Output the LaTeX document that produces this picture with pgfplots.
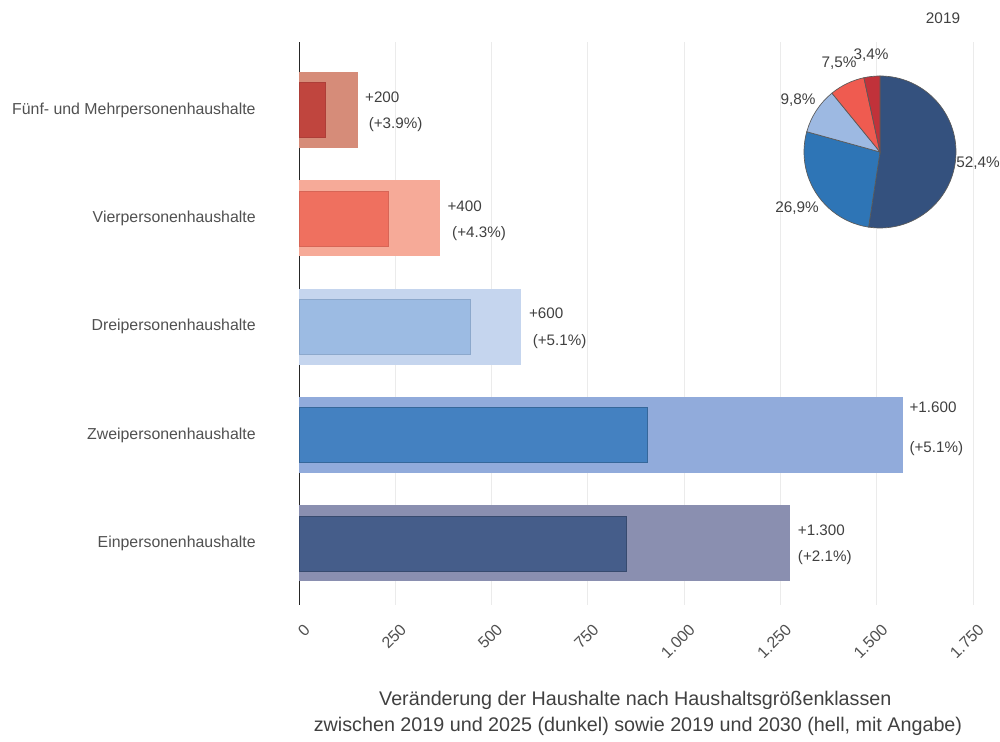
\documentclass[border=0pt]{standalone}
\usepackage{fontspec}
\setmainfont{Liberation Sans}
\usepackage{pgfplots}
\pgfplotsset{compat=1.18}
\definecolor{txt}{HTML}{505050}
\definecolor{txtd}{HTML}{404040}
\definecolor{gridc}{HTML}{EBEBEB}
% bars: light (2030) / dark (2025)
\definecolor{fL}{HTML}{D68C79}\definecolor{fD}{HTML}{C0453E}
\definecolor{vL}{HTML}{F6AA98}\definecolor{vD}{HTML}{EF705F}
\definecolor{dL}{HTML}{C5D5EE}\definecolor{dD}{HTML}{9CBBE3}
\definecolor{zL}{HTML}{91ABDB}\definecolor{zD}{HTML}{4481C1}
\definecolor{eL}{HTML}{8A8FB0}\definecolor{eD}{HTML}{455D8A}
% pie
\definecolor{p1}{HTML}{34517E}
\definecolor{p2}{HTML}{2E75B6}
\definecolor{p3}{HTML}{9DB9E2}
\definecolor{p4}{HTML}{EF5B50}
\definecolor{p5}{HTML}{C1323A}
\newcommand\pieslice[3]{%
  \pgfmathsetmacro\angA{90-3.6*#1}%
  \pgfmathsetmacro\angB{90-3.6*(#1+#2)}%
  \edef\temp{\noexpand\filldraw[fill=#3, draw=black!65, line width=0.5pt] (axis cs:0,0) -- ++(\angA:57pt) arc[start angle=\angA, end angle=\angB, radius=57pt] -- cycle;}%
  \temp}
\begin{document}
\begin{tikzpicture}[x=1pt,y=1pt]
\useasboundingbox (0,0) rectangle (750,556.5);
\begin{axis}[
  at={(224.25pt,102.75pt)}, anchor=south west,
  scale only axis, width=505.5pt, height=422.25pt,
  xmin=0, xmax=1750, ymin=-0.57, ymax=4.63,
  clip=false,
  axis x line=bottom, x axis line style={draw=none},
  axis y line=left, y axis line style={-, draw=black!85, line width=0.6pt},
  xtick={0,250,...,1750}, xmajorgrids, grid style={gridc, line width=0.6pt},
  major tick length=0,
  ytick={0,1,2,3,4},
  yticklabels={Einpersonenhaushalte,Zweipersonenhaushalte,Dreipersonenhaushalte,Vierpersonenhaushalte,Fünf- und Mehrpersonenhaushalte},
  yticklabel style={font=\fontsize{11.9}{14}\selectfont, text=txt, xshift=-29pt},
  xticklabel style={font=\fontsize{12}{13}\selectfont, text=txt, rotate=45, anchor=east, xshift=-4pt, yshift=-16pt},
  /pgf/number format/1000 sep={.},
  /pgf/number format/assume math mode=true,
  xbar, bar shift=0pt,
]
% light bars (2019-2030)
\addplot[fill=eL, draw=none, bar width=57pt] coordinates {(1274,0)};
\addplot[fill=zL, draw=none, bar width=57pt] coordinates {(1569,1)};
\addplot[fill=dL, draw=none, bar width=57pt] coordinates {(576,2)};
\addplot[fill=vL, draw=none, bar width=57pt] coordinates {(367,3)};
\addplot[fill=fL, draw=none, bar width=57pt] coordinates {(152,4)};
% dark bars (2019-2025)
\addplot[fill=eD, draw=eD!80!black, line width=0.4pt, bar width=41.25pt] coordinates {(849,0)};
\addplot[fill=zD, draw=zD!80!black, line width=0.4pt, bar width=41.25pt] coordinates {(905,1)};
\addplot[fill=dD, draw=dD!90!black, line width=0.4pt, bar width=41.25pt] coordinates {(444,2)};
\addplot[fill=vD, draw=vD!90!black, line width=0.4pt, bar width=41.25pt] coordinates {(232,3)};
\addplot[fill=fD, draw=fD!90!black, line width=0.4pt, bar width=41.25pt] coordinates {(69,4)};
% value labels
\tikzset{vl/.style={anchor=west, inner sep=0pt, text=txtd, font=\fontsize{11.4}{13}\selectfont}}
\node[vl, xshift=6pt, yshift=9.75pt] at (axis cs:1274,0) {+1.300};
\node[vl, xshift=6pt, yshift=-10.5pt] at (axis cs:1274,0) {(+2.1\%)};
\node[vl, xshift=4.5pt, yshift=21pt] at (axis cs:1569,1) {+1.600};
\node[vl, xshift=4.5pt, yshift=-10.5pt] at (axis cs:1569,1) {(+5.1\%)};
\node[vl, xshift=6pt, yshift=9.9pt] at (axis cs:576,2) {+600};
\node[vl, xshift=8.75pt, yshift=-11.4pt] at (axis cs:576,2) {(+5.1\%)};
\node[vl, xshift=5.25pt, yshift=9.5pt] at (axis cs:367,3) {+400};
\node[vl, xshift=8.7pt, yshift=-11.25pt] at (axis cs:367,3) {(+4.3\%)};
\node[vl, xshift=5.5pt, yshift=9.75pt] at (axis cs:152,4) {+200};
\node[vl, xshift=8.25pt, yshift=-10.5pt] at (axis cs:152,4) {(+3.9\%)};
\end{axis}
% pie chart 2019
\begin{axis}[
  at={(660pt,442.5pt)}, anchor=center,
  scale only axis, width=114pt, height=114pt,
  xmin=-1, xmax=1, ymin=-1, ymax=1,
  hide axis, clip=false,
]
\pieslice{0}{52.4}{p1}
\pieslice{52.4}{26.9}{p2}
\pieslice{79.3}{9.8}{p3}
\pieslice{89.1}{7.5}{p4}
\pieslice{96.6}{3.4}{p5}
\end{axis}
\begin{scope}[every node/.style={text=txtd, font=\fontsize{11.5}{13}\selectfont, inner sep=0pt}]
\node at (733.5,434.25) {52,4\%};
\node at (597.75,400.5) {26,9\%};
\node at (598.5,481.5) {9,8\%};
\node at (629.25,509.25) {7,5\%};
\node at (653.25,515.25) {3,4\%};
\node at (707.25,543) {2019};
\end{scope}
% axis title
\begin{scope}[every node/.style={text=txtd, font=\fontsize{14.8}{17}\selectfont, inner sep=0pt}]
\node at (476.5,31.5) {Veränderung der Haushalte nach Haushaltsgrößenklassen};
\node at (478.5,12) {zwischen 2019 und 2025 (dunkel) sowie 2019 und 2030 (hell, mit Angabe)};
\end{scope}
\end{tikzpicture}
\end{document}
